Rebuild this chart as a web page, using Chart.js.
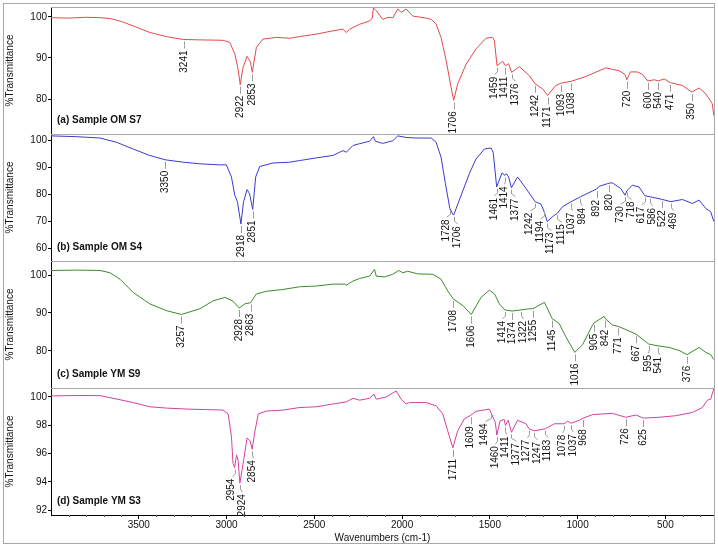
<!DOCTYPE html>
<html>
<head>
<meta charset="utf-8">
<script src="https://cdn.jsdelivr.net/npm/chart.js@4.4.1/dist/chart.umd.min.js"></script>
<style>
  html, body { margin: 0; padding: 0; background: #fff; }
</style>
</head>
<body>
<canvas id="ftir" width="718" height="547"></canvas>
<script>
// x axis (wavenumbers, cm-1)
const xTicks = [3500, 3000, 2500, 2000, 1500, 1000, 500];

// (a) Sample OM S7
const waveA = [
  4000, 3900, 3800, 3720, 3664, 3600, 3532, 3437, 3342, 3247,
  3152, 3020, 2982, 2953, 2935, 2922, 2906, 2883, 2864, 2853,
  2830, 2792, 2716, 2640, 2584, 2489, 2394, 2337, 2318, 2299,
  2242, 2185, 2170, 2163, 2147, 2110, 2080, 2053, 2024, 2005,
  1977, 1939, 1863, 1834, 1806, 1778, 1749, 1721, 1706, 1683,
  1635, 1579, 1522, 1484, 1474, 1459, 1427, 1411, 1393, 1376,
  1332, 1275, 1242, 1200, 1171, 1124, 1093, 1038, 953, 839,
  764, 730, 720, 700, 660, 631, 600, 564, 540, 507,
  471, 403, 350, 308, 270, 233, 224
];
const transA = [
  99.8, 99.7, 99.9, 99.8, 99.6, 98.9, 97.8, 96.2, 95.2, 94.5,
  94.4, 94.3, 93.8, 91.0, 87.5, 83.5, 87.7, 90.4, 89.0, 86.5,
  92.6, 94.6, 95.0, 94.8, 95.2, 95.8, 96.6, 97.0, 96.2, 97.0,
  98.2, 99.0, 99.7, 102.2, 101.5, 99.4, 99.9, 99.8, 101.9, 101.1,
  101.9, 100.2, 99.7, 99.4, 98.2, 95.0, 89.4, 82.9, 79.7, 83.7,
  88.5, 92.2, 94.8, 95.0, 94.2, 88.1, 89.2, 88.1, 88.6, 86.5,
  87.9, 85.7, 83.7, 82.5, 80.9, 83.3, 83.9, 84.3, 85.5, 87.6,
  86.9, 86.0, 84.7, 86.6, 86.6, 86.0, 84.4, 84.7, 84.4, 84.9,
  84.0, 83.3, 81.7, 82.7, 81.3, 78.9, 76.0
];
const peaksA = [3241, 2922, 2853, 1706, 1459, 1411, 1376, 1242, 1171, 1093, 1038, 720, 600, 540, 471, 350];
const yTicksA = [80, 90, 100];

// (b) Sample OM S4
const waveB = [
  4000, 3854, 3721, 3626, 3532, 3437, 3350, 3247, 3152, 3039,
  3001, 2972, 2953, 2938, 2918, 2903, 2883, 2869, 2851, 2834,
  2811, 2735, 2640, 2584, 2489, 2394, 2337, 2318, 2280, 2242,
  2185, 2163, 2152, 2110, 2053, 2024, 1977, 1920, 1834, 1806,
  1778, 1753, 1728, 1712, 1706, 1674, 1617, 1579, 1531, 1493,
  1481, 1461, 1431, 1414, 1406, 1393, 1377, 1342, 1294, 1242,
  1209, 1194, 1173, 1143, 1115, 1086, 1037, 984, 915, 892,
  878, 830, 820, 802, 754, 730, 718, 688, 650, 617,
  586, 522, 469, 403, 346, 308, 270, 242, 224
];
const transB = [
  101.8, 101.5, 101.0, 99.4, 96.9, 94.5, 92.9, 92.0, 91.4, 91.0,
  91.0, 86.5, 79.7, 77.3, 69.0, 77.3, 81.8, 80.3, 74.4, 86.5,
  90.4, 91.7, 92.0, 92.6, 93.6, 94.5, 96.3, 95.7, 98.2, 98.9,
  99.8, 101.5, 99.8, 99.0, 100.0, 101.8, 101.2, 101.0, 101.0, 99.4,
  93.9, 84.0, 74.8, 72.7, 72.3, 77.9, 87.7, 93.2, 96.9, 97.3,
  95.7, 82.8, 88.0, 87.1, 87.7, 86.5, 82.5, 86.5, 82.2, 77.3,
  76.4, 74.2, 69.9, 71.7, 73.0, 75.4, 77.3, 79.1, 81.3, 82.0,
  83.0, 84.0, 84.2, 84.3, 82.2, 79.7, 81.5, 83.4, 82.8, 79.5,
  79.1, 78.2, 77.3, 78.1, 76.6, 77.9, 74.8, 73.6, 69.9
];
const peaksB = [3350, 2918, 2851, 1728, 1706, 1461, 1414, 1377, 1242, 1194, 1173, 1115, 1037, 984, 892, 820, 730, 718, 617, 586, 522, 469];
const yTicksB = [60, 70, 80, 90, 100];

// (c) Sample YM S9
const waveC = [
  4000, 3850, 3721, 3664, 3607, 3532, 3437, 3342, 3257, 3152,
  3076, 3008, 2963, 2928, 2895, 2863, 2830, 2773, 2678, 2584,
  2489, 2394, 2326, 2318, 2280, 2242, 2185, 2157, 2147, 2100,
  2053, 2019, 1996, 1968, 1911, 1825, 1778, 1740, 1708, 1653,
  1606, 1550, 1503, 1473, 1446, 1414, 1374, 1322, 1275, 1255,
  1189, 1145, 1105, 1067, 1016, 972, 915, 905, 849, 842,
  802, 771, 725, 667, 595, 541, 479, 422, 376, 308,
  270, 242, 224
];
const transC = [
  101.2, 101.3, 101.2, 100.6, 98.9, 95.4, 92.4, 90.6, 89.6, 91.1,
  93.2, 94.1, 93.1, 91.3, 92.4, 92.7, 95.0, 95.7, 96.2, 96.9,
  97.1, 97.6, 97.6, 97.3, 98.4, 99.1, 99.7, 101.5, 99.7, 99.5,
  100.2, 101.2, 100.6, 101.0, 100.3, 100.2, 98.9, 95.8, 93.7, 91.9,
  89.6, 94.1, 96.0, 95.0, 92.4, 90.8, 90.5, 90.8, 91.1, 91.1,
  92.8, 88.5, 87.2, 83.7, 79.6, 81.6, 86.8, 87.4, 89.1, 88.5,
  86.8, 86.5, 85.6, 84.4, 81.8, 81.3, 80.9, 80.1, 79.0, 80.9,
  79.6, 79.0, 77.7
];
const peaksC = [3257, 2928, 2863, 1708, 1606, 1414, 1374, 1322, 1255, 1145, 1016, 905, 842, 771, 667, 595, 541, 376];
const yTicksC = [80, 90, 100];

// (d) Sample YM S3
const waveD = [
  4000, 3850, 3721, 3664, 3532, 3437, 3342, 3225, 3114, 3020,
  2991, 2972, 2963, 2954, 2943, 2934, 2924, 2903, 2883, 2866,
  2854, 2838, 2819, 2773, 2678, 2584, 2489, 2394, 2318, 2280,
  2242, 2185, 2161, 2147, 2090, 2034, 2005, 1977, 1958, 1863,
  1806, 1768, 1740, 1711, 1683, 1645, 1609, 1579, 1503, 1494,
  1469, 1460, 1442, 1418, 1411, 1395, 1377, 1342, 1294, 1277,
  1247, 1183, 1133, 1078, 1057, 1037, 991, 968, 915, 802,
  726, 668, 625, 536, 441, 346, 289, 261, 242, 224
];
const transD = [
  100.07, 100.1, 100.09, 99.95, 99.6, 99.3, 99.21, 99.14, 99.1, 99.07,
  98.8, 97.2, 95.3, 95.0, 95.9, 95.5, 93.9, 95.5, 97.1, 96.9,
  96.3, 97.6, 98.8, 99.0, 99.07, 99.25, 99.3, 99.5, 99.65, 99.9,
  99.77, 99.9, 100.2, 99.84, 100.0, 100.42, 99.84, 99.5, 99.6, 99.6,
  99.37, 98.8, 97.6, 96.4, 97.6, 98.45, 98.7, 98.98, 99.14, 98.9,
  98.2, 97.3, 98.3, 98.4, 97.98, 98.35, 97.5, 98.35, 98.1, 97.75,
  97.6, 97.75, 98.1, 98.1, 98.28, 98.14, 98.35, 98.5, 98.75, 98.84,
  98.56, 98.72, 98.5, 98.56, 98.67, 98.9, 99.25, 99.77, 99.84, 100.6
];
const peaksD = [2954, 2924, 2854, 1711, 1609, 1494, 1460, 1411, 1377, 1277, 1247, 1183, 1078, 1037, 968, 726, 625];
const yTicksD = [92, 94, 96, 98, 100];

const panels = [
  { id: 'yA', name: '(a) Sample OM S7', wave: waveA, trans: transA, peaks: peaksA, ticks: yTicksA, color: '#e3484c', min: 71.5, max: 102.4 },
  { id: 'yB', name: '(b) Sample OM S4', wave: waveB, trans: transB, peaks: peaksB, ticks: yTicksB, color: '#3a3ad2', min: 55.2, max: 102.5 },
  { id: 'yC', name: '(c) Sample YM S9', wave: waveC, trans: transC, peaks: peaksC, ticks: yTicksC, color: '#3c8a2c', min: 70.2, max: 103.7 },
  { id: 'yD', name: '(d) Sample YM S3', wave: waveD, trans: transD, peaks: peaksD, ticks: yTicksD, color: '#d4409f', min: 91.65, max: 100.63 }
];

const FONT = '"Liberation Sans", Arial, sans-serif';
Chart.defaults.font.family = FONT;
Chart.defaults.font.size = 10;
Chart.defaults.color = '#111';

// value of a spectrum at a wavenumber (for placing the peak labels)
function transAt(p, w) {
  const xs = p.wave, ys = p.trans;
  for (let i = 1; i < xs.length; i++) {
    if (w <= xs[i - 1] && w >= xs[i]) {
      const t = (xs[i - 1] - w) / (xs[i - 1] - xs[i]);
      return ys[i - 1] + t * (ys[i] - ys[i - 1]);
    }
  }
  return ys[ys.length - 1];
}

// keep every spectrum inside its own panel
const panelClip = {
  id: 'panelClip',
  beforeDatasetDraw(chart, args) {
    const y = chart.scales[args.meta.yAxisID];
    const a = chart.chartArea;
    chart.ctx.save();
    chart.ctx.beginPath();
    chart.ctx.rect(a.left, y.top, a.right - a.left, y.bottom - y.top);
    chart.ctx.clip();
  },
  afterDatasetDraw(chart) {
    chart.ctx.restore();
  }
};

// frame, panel separators, minor ticks, panel names
const frame = {
  id: 'frame',
  afterDraw(chart) {
    const ctx = chart.ctx, a = chart.chartArea, x = chart.scales.x;
    ctx.save();
    ctx.strokeStyle = '#a8a8a8';
    ctx.lineWidth = 1;
    ctx.strokeRect(3.5, 3.5, 711, 540);
    panels.forEach(p => {
      const y = chart.scales[p.id];
      const top = Math.round(y.top) + 0.5;
      ctx.beginPath();
      ctx.moveTo(a.left, top);
      ctx.lineTo(a.right, top);
      ctx.stroke();
    });
    ctx.beginPath();
    ctx.moveTo(Math.round(a.right) + 0.5, a.top);
    ctx.lineTo(Math.round(a.right) + 0.5, a.bottom);
    ctx.stroke();

    // minor ticks on the wavenumber axis
    ctx.strokeStyle = '#555';
    ctx.beginPath();
    for (let v = 300; v < 4000; v += 100) {
      if (v % 500 === 0) continue;
      const px = Math.round(x.getPixelForValue(v)) + 0.5;
      ctx.moveTo(px, a.bottom);
      ctx.lineTo(px, a.bottom + 2);
    }
    ctx.stroke();

    ctx.fillStyle = '#111';
    ctx.font = 'bold 10px ' + FONT;
    ctx.textAlign = 'left';
    ctx.textBaseline = 'middle';
    panels.forEach(p => {
      const y = chart.scales[p.id];
      ctx.fillText(p.name, a.left + 6, y.bottom - 14);
    });
    ctx.restore();
  }
};

// rotated peak labels with leader lines
const peakLabels = {
  id: 'peakLabels',
  afterDatasetsDraw(chart) {
    const ctx = chart.ctx, x = chart.scales.x;
    const gap = 10.5;
    ctx.save();
    ctx.font = '10px ' + FONT;
    panels.forEach(p => {
      const y = chart.scales[p.id];
      const items = p.peaks.map(w => {
        const px = x.getPixelForValue(w);
        return { w, px, py: y.getPixelForValue(transAt(p, w)), lx: px };
      }).sort((m, n) => m.px - n.px);
      for (let k = 0; k < 40; k++) {
        for (let i = 1; i < items.length; i++) {
          const d = items[i].lx - items[i - 1].lx;
          if (d < gap) {
            const m = (gap - d) / 2;
            items[i - 1].lx -= m;
            items[i].lx += m;
          }
        }
      }
      items.forEach(o => {
        const y1 = o.py + 2, y2 = o.py + 6, y3 = o.py + 9;
        ctx.strokeStyle = '#9a9a9a';
        ctx.lineWidth = 1;
        ctx.beginPath();
        ctx.moveTo(Math.round(o.px) + 0.5, y1);
        ctx.lineTo(Math.round(o.px) + 0.5, y2);
        ctx.lineTo(Math.round(o.lx) + 0.5, y3);
        ctx.stroke();
        ctx.save();
        ctx.translate(o.lx, y3 + 2);
        ctx.rotate(-Math.PI / 2);
        ctx.textAlign = 'right';
        ctx.textBaseline = 'middle';
        ctx.fillStyle = '#111';
        ctx.fillText(String(o.w), 0, 0);
        ctx.restore();
      });
    });
    ctx.restore();
  }
};

const scales = {
  x: {
    type: 'linear',
    position: 'bottom',
    reverse: true,
    min: 223,
    max: 4000,
    afterBuildTicks: s => { s.ticks = xTicks.map(v => ({ value: v })); },
    afterFit: s => { s.height = 32; },
    border: { color: '#000' },
    grid: { drawOnChartArea: false, tickLength: 4, color: '#000' },
    ticks: { padding: 0, maxRotation: 0, autoSkip: false, callback: v => String(v) },
    title: { display: true, text: 'Wavenumbers (cm-1)', padding: { top: 0, bottom: 3 } }
  }
};
panels.forEach((p, i) => {
  scales[p.id] = {
    type: 'linear',
    position: 'left',
    stack: 'ftir',
    stackWeight: 1,
    weight: panels.length - i,
    min: p.min,
    max: p.max,
    afterBuildTicks: s => { s.ticks = p.ticks.map(v => ({ value: v })); },
    afterFit: s => { s.width = 51; },
    border: { color: '#000' },
    grid: { drawOnChartArea: false, tickLength: 3, color: '#000' },
    ticks: { padding: 1, callback: v => String(v) },
    title: { display: true, text: '%Transmittance', padding: { top: 4, bottom: 0 } }
  };
});

new Chart(document.getElementById('ftir'), {
  type: 'line',
  data: {
    datasets: panels.map(p => ({
      label: p.name,
      data: p.wave.map((w, i) => ({ x: w, y: p.trans[i] })),
      yAxisID: p.id,
      borderColor: p.color,
      borderWidth: 1,
      pointRadius: 0,
      tension: 0,
      fill: false
    }))
  },
  options: {
    responsive: false,
    animation: false,
    layout: { padding: { top: 3, right: 4, bottom: 0, left: 0 } },
    plugins: { legend: { display: false }, tooltip: { enabled: false } },
    scales
  },
  plugins: [panelClip, peakLabels, frame]
});
</script>
</body>
</html>
